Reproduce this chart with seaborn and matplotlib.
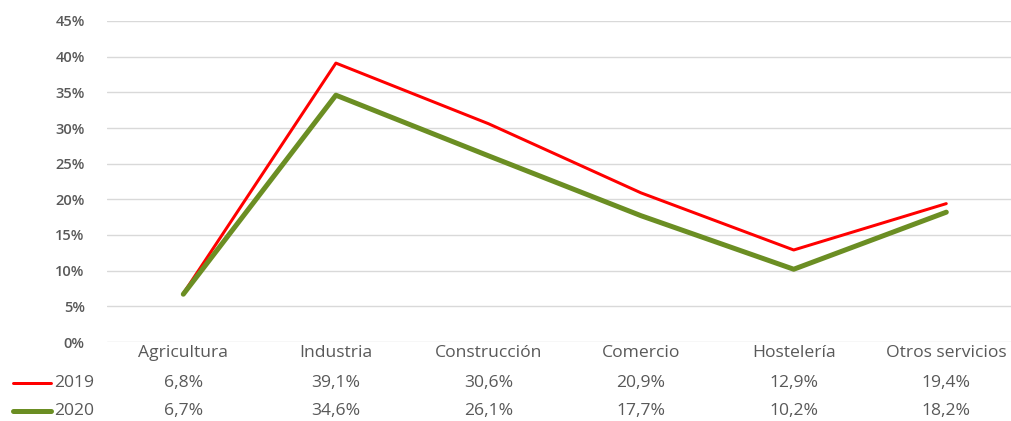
import matplotlib
matplotlib.use("Agg")
import matplotlib.pyplot as plt
import matplotlib.transforms as mtransforms
from matplotlib.lines import Line2D
import numpy as np
import pandas as pd
import seaborn as sns

categories = ["Agricultura", "Industria", "Construcción", "Comercio", "Hostelería", "Otros servicios"]
values_2019 = [6.8, 39.1, 30.6, 20.9, 12.9, 19.4]
values_2020 = [6.7, 34.6, 26.1, 17.7, 10.2, 18.2]
y_ticks = [0, 5, 10, 15, 20, 25, 30, 35, 40, 45]

df = pd.DataFrame({
    "sector": categories * 2,
    "valor": values_2019 + values_2020,
    "anio": ["2019"] * len(categories) + ["2020"] * len(categories),
})

sns.set_style("white")
plt.rcParams["font.family"] = ["Open Sans", "DejaVu Sans"]

colors = {"2019": "#ff0000", "2020": "#6b8e23"}
widths = {"2019": 3.0, "2020": 5.0}
text_col = "#595959"
fs = 12.6

W, H = 1011, 421
fig = plt.figure(figsize=(W / 100, H / 100), dpi=100)
ax = fig.add_axes([107 / W, (H - 342) / H, 915.6 / W, 321 / H])

df["x"] = df["sector"].map({c: i for i, c in enumerate(categories)})
for anio in ["2019", "2020"]:
    sub = df[df["anio"] == anio]
    sns.lineplot(data=sub, x="x", y="valor", ax=ax, color=colors[anio],
                 linewidth=widths[anio] * 0.72, legend=False)

ax.set_xlim(-0.5, len(categories) - 0.5)
ax.set_ylim(0, 45)
ax.set_yticks(y_ticks)
ax.set_yticklabels([f"{t}%" for t in y_ticks], color=text_col, fontsize=10.5,
                   fontweight="semibold")
ax.set_xticks(range(len(categories)))
ax.set_xticklabels(categories, color=text_col, fontsize=fs)
ax.tick_params(axis="both", length=0)
ax.tick_params(axis="x", pad=2)
ax.tick_params(axis="y", pad=16)
ax.grid(axis="y", color="#d9d9d9", linewidth=1)
ax.grid(axis="x", visible=False)
ax.set_xlabel("")
ax.set_ylabel("")
for s in ax.spines.values():
    s.set_visible(False)

trans = mtransforms.blended_transform_factory(ax.transData, fig.transFigure)
for anio, vals, ypx in [("2019", values_2019, 383), ("2020", values_2020, 411)]:
    yf = (H - ypx) / H
    for i, v in enumerate(vals):
        ax.text(i, yf, f"{v:.1f}%".replace(".", ","), transform=trans,
                ha="center", va="center", color=text_col, fontsize=fs, clip_on=False)
    fig.add_artist(Line2D([13 / W, 51 / W], [yf, yf], color=colors[anio],
                          linewidth=widths[anio] * 0.72, solid_capstyle="round"))
    fig.text(54 / W, yf, anio, ha="left", va="center", color=text_col, fontsize=fs)

fig.savefig("out.png", dpi=100)
